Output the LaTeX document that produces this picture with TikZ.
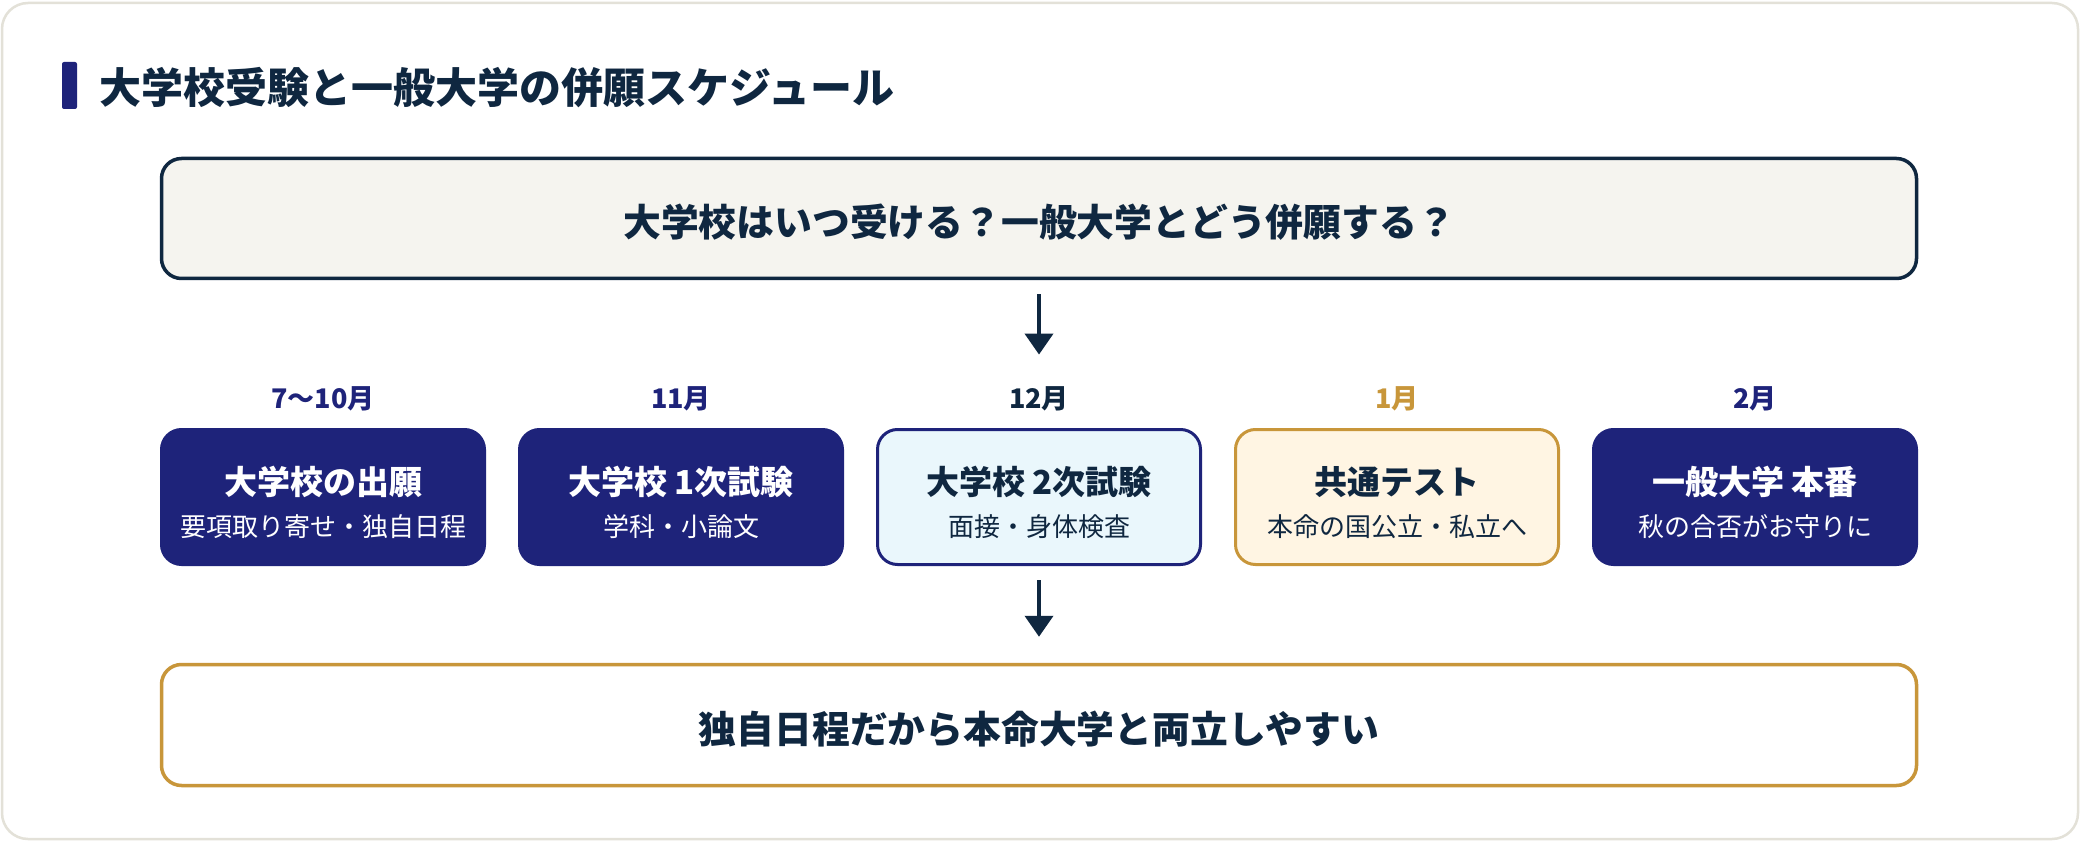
\documentclass[tikz,border=0pt]{standalone}
\usepackage{fontspec}
\setmainfont{Noto Sans CJK JP}
\usetikzlibrary{arrows.meta}
\definecolor{navy}{HTML}{1E237A}
\definecolor{ink}{HTML}{0F2740}
\definecolor{gold}{HTML}{C8963A}
\definecolor{cream}{HTML}{FFF5E3}
\definecolor{ice}{HTML}{EAF7FC}
\definecolor{paper}{HTML}{F5F4EF}
\definecolor{cardline}{HTML}{E3E1D8}
\tikzset{
  stagebox/.style={rounded corners=20pt, minimum width=323pt, minimum height=135pt, inner sep=0pt, line width=3pt},
  navybox/.style={stagebox, fill=navy, draw=navy},
  icebox/.style={stagebox, fill=ice, draw=navy},
  creambox/.style={stagebox, fill=cream, draw=gold},
  wide/.style={rounded corners=20pt, minimum width=1755pt, inner sep=0pt, line width=3.5pt},
  maintxt/.style={inner sep=0pt, font=\fontsize{33}{40}\selectfont\bfseries},
  subtxt/.style={inner sep=0pt, font=\fontsize{26}{32}\selectfont},
  monthtxt/.style={inner sep=0pt, font=\fontsize{27}{32}\selectfont\bfseries},
  bigtxt/.style={inner sep=0pt, text=ink, font=\fontsize{37.8}{44}\selectfont\bfseries},
  arr/.style={draw=ink, line width=4pt, -{Triangle[length=21pt,width=28pt]}},
}
\begin{document}
\begin{tikzpicture}[x=1pt, y=-1pt]
\useasboundingbox (0,0) rectangle (2080,842);
\fill[white] (0,0) rectangle (2080,842);
% card
\draw[cardline, line width=2.5pt, fill=white, rounded corners=26pt] (2,3) rectangle (2078,839);
% title
\fill[navy, rounded corners=2pt] (62,62) rectangle (77,109);
\node[anchor=west, inner sep=0pt, text=ink, font=\fontsize{42}{48}\selectfont\bfseries] (title) at (99,88) {大学校受験と一般大学の併願スケジュール};
% top question box
\node[wide, fill=paper, draw=ink, minimum height=120pt] (top) at (1039,218.5) {};
\node[bigtxt] (toptxt) at (1039,222) {大学校はいつ受ける？一般大学とどう併願する？};
% month labels
\node[monthtxt, text=navy] (m1) at (323,399) {7〜10月};
\node[monthtxt, text=navy] (m2) at (681,399) {11月};
\node[monthtxt, text=ink] (m3) at (1039,399) {12月};
\node[monthtxt, text=gold] (m4) at (1397,399) {1月};
\node[monthtxt, text=navy] (m5) at (1755,399) {2月};
% stage boxes
\node[navybox] (b1) at (323,497) {};
\node[navybox] (b2) at (681,497) {};
\node[icebox] (b3) at (1039,497) {};
\node[creambox] (b4) at (1397,497) {};
\node[navybox] (b5) at (1755,497) {};
% box texts
\node[maintxt, text=white] (b1a) at (323,482) {大学校の出願};
\node[subtxt, text=white] (b1b) at (323,527) {要項取り寄せ・独自日程};
\node[maintxt, text=white] (b2a) at (681,482) {大学校 1次試験};
\node[subtxt, text=white] (b2b) at (681,527) {学科・小論文};
\node[maintxt, text=ink] (b3a) at (1039,482) {大学校 2次試験};
\node[subtxt, text=ink] (b3b) at (1039,527) {面接・身体検査};
\node[maintxt, text=ink] (b4a) at (1397,482) {共通テスト};
\node[subtxt, text=ink] (b4b) at (1397,527) {本命の国公立・私立へ};
\node[maintxt, text=white] (b5a) at (1755,482) {一般大学 本番};
\node[subtxt, text=white] (b5b) at (1755,527) {秋の合否がお守りに};
% bottom box
\node[wide, fill=white, draw=gold, minimum height=121pt] (bottom) at (1039,725) {};
\node[bigtxt] (bottxt) at (1039,729) {独自日程だから本命大学と両立しやすい};
% arrows
\draw[arr, shorten <=14pt, shorten >=32pt] (top.south) -- (m3.north);
\draw[arr, shorten <=14pt, shorten >=26pt] (b3.south) -- (bottom.north);
\end{tikzpicture}
\end{document}
